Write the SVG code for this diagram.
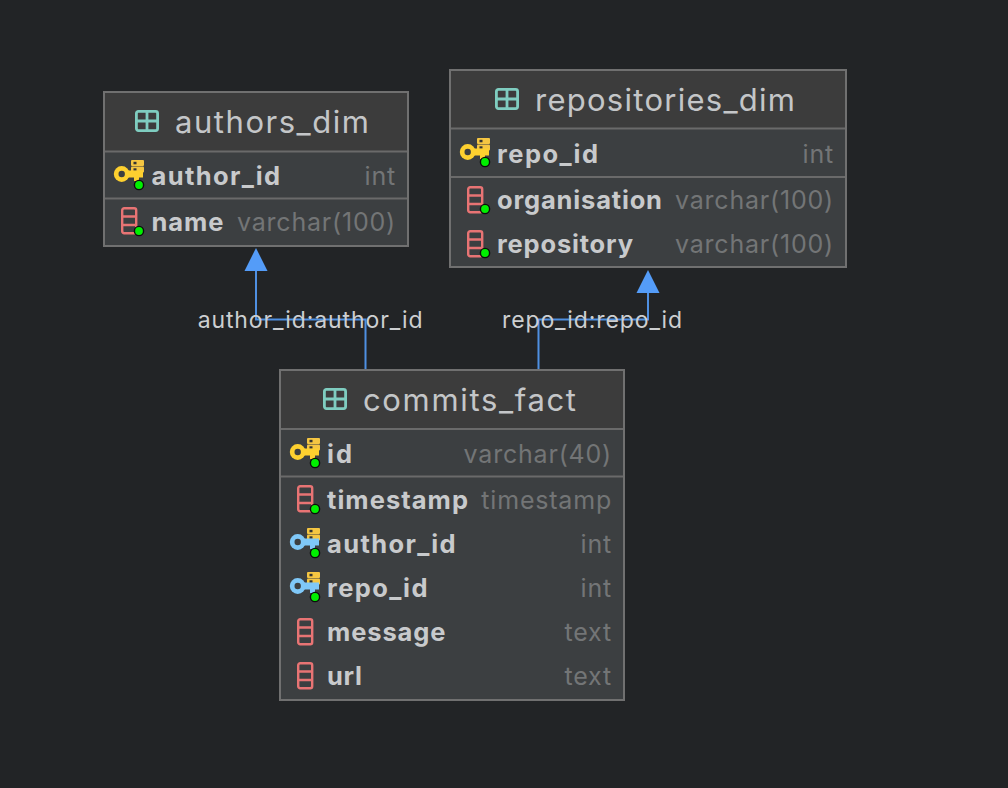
<svg xmlns="http://www.w3.org/2000/svg" xmlns:xlink="http://www.w3.org/1999/xlink" width="1008" height="788" viewBox="0 0 1008 788">
<style>
.bd{fill:#3c3f41}
.hd{fill:#3c3c3c}
.fr{fill:none;stroke:#707070;stroke-width:2}
.dv{stroke:#6a6a6a;stroke-width:2}
text{font-family:Inter,"Noto Sans","Liberation Sans",sans-serif}
.t{font-size:31px;fill:#c4c6c8}
.c{font-size:25.5px;font-weight:700;fill:#c8cacc}
.y{font-size:25px;fill:#737576;text-anchor:end;letter-spacing:.8px}
.l{font-size:23px;fill:#cdcfd1;text-anchor:middle;letter-spacing:.9px}
.ln{fill:none;stroke:#4f90e2;stroke-width:2}
.ah{fill:#549cf8}
</style>
<defs>
<g id="tbl"><rect x="1.400" y="1.400" width="21.200" height="19.200" rx="2" fill="none" stroke="#7fcdc0" stroke-width="2.800"/><path d="M1 11H23M12 1V21" stroke="#7fcdc0" stroke-width="2.800" fill="none"/></g>
<g id="col"><rect x="1.200" y="1.200" width="14" height="25" rx="2" fill="none" stroke="#e87474" stroke-width="2.400"/><path d="M1 9.500H15M1 18H15" stroke="#e87474" stroke-width="2.400"/></g>
<g id="dot"><circle r="4.600" fill="#00f000" stroke="#0c0c0c" stroke-width="1.400"/></g>
<g id="srv"><rect x="17" y="0" width="13" height="6" rx="1" fill="#f5c642"/><rect x="17" y="6.500" width="13" height="6" rx="1" fill="#f5c642"/><rect x="19.500" y="1.800" width="3" height="2.500" fill="#333"/><rect x="19.500" y="8.300" width="3" height="2.500" fill="#333"/></g>
<g id="pk"><use xlink:href="#srv"/><g fill="#fdd02f"><circle cx="7.700" cy="14" r="7.900"/><rect x="13" y="10.500" width="16" height="7"/><rect x="20" y="15" width="5" height="6"/></g><circle cx="7.700" cy="14" r="3.200" fill="#3c3f41"/></g>
<g id="fk"><use xlink:href="#srv"/><g fill="#7fc8f8"><circle cx="7.700" cy="14" r="7.900"/><rect x="13" y="10.500" width="16" height="7"/><rect x="20" y="15" width="5" height="6"/></g><circle cx="7.700" cy="14" r="3.200" fill="#3c3f41"/></g>
</defs>
<rect width="1008" height="788" fill="#222426"/>
<g id="connectors">
<path class="ln" d="M256 270V319.500H365.500V369"/>
<path class="ah" d="M256 248L267.500 271H244.500Z"/>
<path class="ln" d="M648 292V319.500H538.500V369"/>
<path class="ah" d="M648 270L659.500 293H636.500Z"/>
<text class="l" x="310.500" y="328">author_id:author_id</text>
<text class="l" x="592.500" y="328">repo_id:repo_id</text>
</g>
<g id="authors_dim">
<rect class="bd" x="104" y="92" width="304" height="154"/><rect class="hd" x="104" y="92" width="304" height="59"/>
<path class="dv" d="M104 151.500H408M104 198.500H408"/><rect class="fr" x="104" y="92" width="304" height="154"/>
<use xlink:href="#tbl" x="135" y="110"/><text class="t" x="175" y="133" textLength="194">authors_dim</text>
<use xlink:href="#pk" x="114" y="160"/><use xlink:href="#dot" x="139" y="185"/><text class="c" x="151.500" y="185" textLength="128.500">author_id</text><text class="y" x="396" y="185">int</text>
<use xlink:href="#col" x="121" y="207"/><use xlink:href="#dot" x="139" y="231"/><text class="c" x="151.500" y="231" textLength="72">name</text><text class="y" x="396" y="231">varchar(100)</text>
</g>
<g id="repositories_dim">
<rect class="bd" x="450" y="70" width="396" height="197"/><rect class="hd" x="450" y="70" width="396" height="58"/>
<path class="dv" d="M450 128.500H846M450 177H846"/><rect class="fr" x="450" y="70" width="396" height="197"/>
<use xlink:href="#tbl" x="495" y="88"/><text class="t" x="535" y="111" textLength="260">repositories_dim</text>
<use xlink:href="#pk" x="460" y="138"/><use xlink:href="#dot" x="485" y="162"/><text class="c" x="497" y="163" textLength="101">repo_id</text><text class="y" x="834" y="163">int</text>
<use xlink:href="#col" x="467" y="186"/><use xlink:href="#dot" x="485" y="209"/><text class="c" x="497" y="209" textLength="165">organisation</text><text class="y" x="834" y="209">varchar(100)</text>
<use xlink:href="#col" x="467" y="230"/><use xlink:href="#dot" x="485" y="253"/><text class="c" x="497" y="253" textLength="136">repository</text><text class="y" x="834" y="253">varchar(100)</text>
</g>
<g id="commits_fact">
<rect class="bd" x="280" y="370" width="344" height="330"/><rect class="hd" x="280" y="370" width="344" height="59"/>
<path class="dv" d="M280 429H624M280 476.500H624"/><rect class="fr" x="280" y="370" width="344" height="330"/>
<use xlink:href="#tbl" x="323" y="388"/><text class="t" x="363" y="411" textLength="213">commits_fact</text>
<use xlink:href="#pk" x="290" y="438"/><use xlink:href="#dot" x="315" y="463"/><text class="c" x="327" y="463" textLength="25">id</text><text class="y" x="612" y="463">varchar(40)</text>
<use xlink:href="#col" x="297" y="485"/><use xlink:href="#dot" x="315" y="509"/><text class="c" x="327" y="509" textLength="141">timestamp</text><text class="y" x="612" y="509">timestamp</text>
<use xlink:href="#fk" x="290" y="528"/><use xlink:href="#dot" x="315" y="553"/><text class="c" x="327" y="553" textLength="128.500">author_id</text><text class="y" x="612" y="553">int</text>
<use xlink:href="#fk" x="290" y="572"/><use xlink:href="#dot" x="315" y="597"/><text class="c" x="327" y="597" textLength="100.500">repo_id</text><text class="y" x="612" y="597">int</text>
<use xlink:href="#col" x="297" y="618"/><text class="c" x="327" y="641" textLength="118.500">message</text><text class="y" x="612" y="641">text</text>
<use xlink:href="#col" x="297" y="662"/><text class="c" x="327" y="685" textLength="35">url</text><text class="y" x="612" y="685">text</text>
</g>
</svg>
